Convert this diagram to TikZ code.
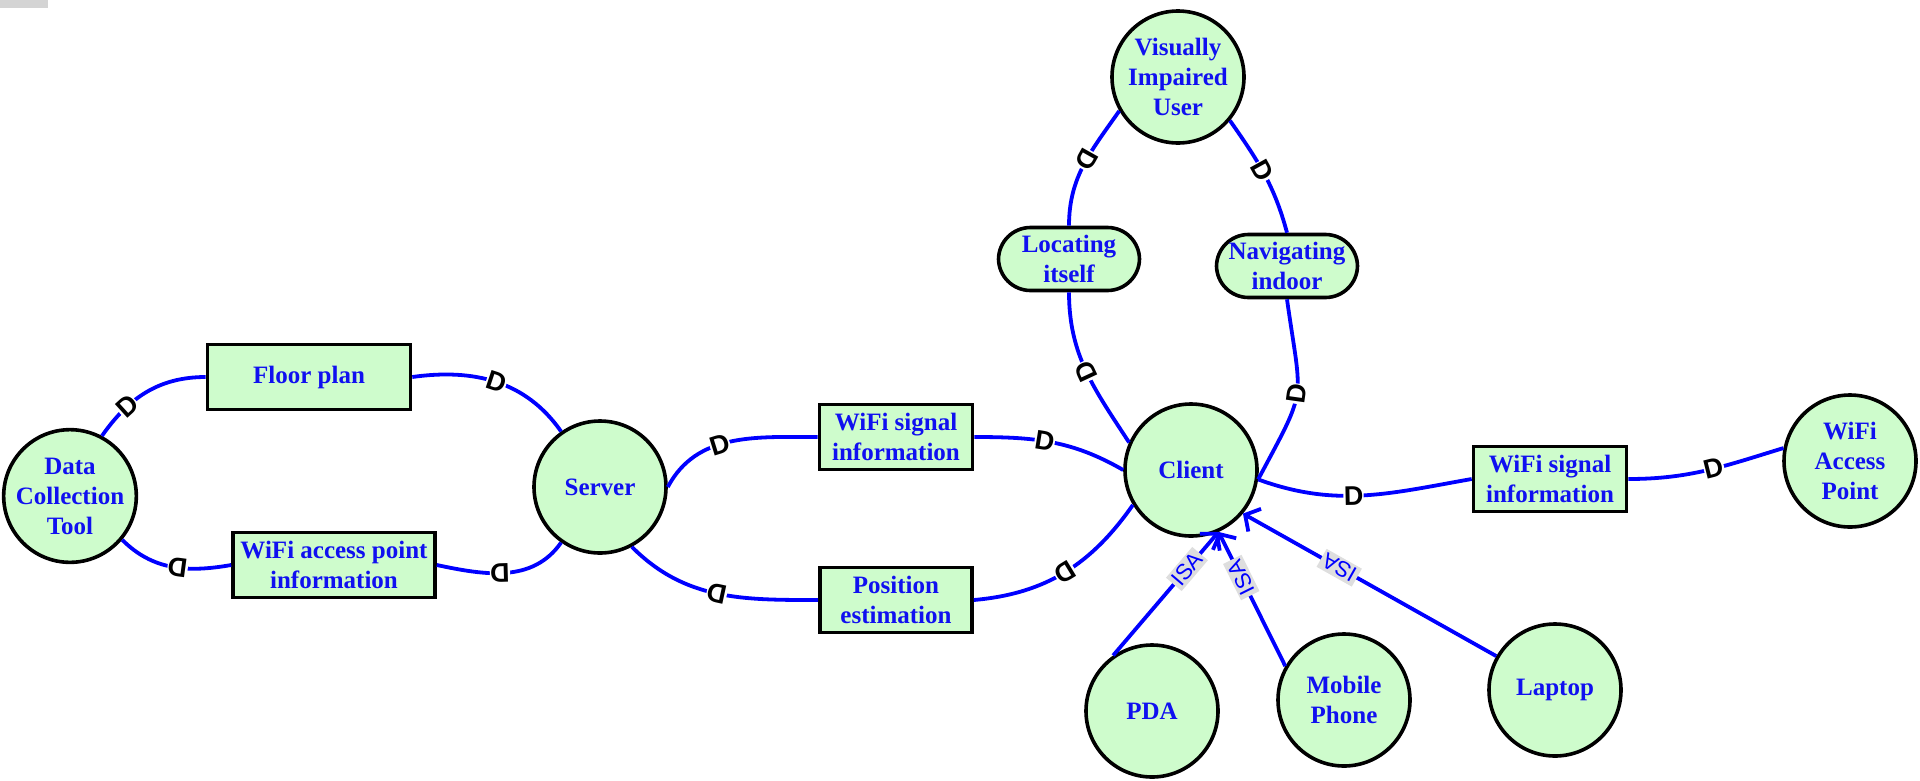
\documentclass[tikz,border=0pt]{standalone}
\usepackage{fontspec}
\setmainfont{Liberation Serif}
\setsansfont{Liberation Sans}
\usetikzlibrary{arrows.meta}
\definecolor{nodefill}{RGB}{206,252,204}
\definecolor{linkblue}{RGB}{0,0,255}
\definecolor{textblue}{RGB}{16,16,240}
\definecolor{isagrey}{RGB}{222,222,222}
\definecolor{cornergrey}{RGB}{212,212,212}

\begin{document}
\begin{tikzpicture}[x=1pt,y=1pt,
  concept/.style={draw=black,line width=3.6pt,fill=nodefill,text=textblue,
    font=\fontsize{25}{30}\selectfont\bfseries,align=center,inner sep=0pt},
  circ/.style={concept,circle,minimum size=132pt},
  box/.style={concept,rectangle,minimum height=65pt},
  pill/.style={concept,rectangle,rounded corners=32pt,minimum width=141pt,minimum height=63pt},
  link/.style={draw=linkblue,line width=3.8pt},
  dmark/.style={sloped,allow upside down,fill=white,text=black,inner sep=0.4pt,
    font=\fontsize{27}{27}\selectfont\sffamily\bfseries},
  isalink/.style={draw=linkblue,line width=3.8pt,-{Straight Barb[length=11pt,width=26pt]}},
  isalabel/.style={sloped,allow upside down,fill=isagrey,text=linkblue,inner sep=2.5pt,
    font=\fontsize{22}{22}\selectfont\sffamily}
]
\useasboundingbox (0,0) rectangle (1920,-780);
\fill[cornergrey] (0,0) rectangle (48,-8);

% concepts
\node[circ] (dct) at (70,-496) {Data\\Collection\\Tool};
\node[box,minimum width=203pt] (floor) at (309,-377) {Floor plan};
\node[box,minimum width=202pt] (wapinfo) at (334,-565) {WiFi access point\\information};
\node[circ] (server) at (600,-487) {Server};
\node[box,minimum width=153pt] (wsig) at (896,-437) {WiFi signal\\information};
\node[box,minimum width=152pt] (pos) at (896,-600) {Position\\estimation};
\node[circ] (client) at (1191,-470) {Client};
\node[circ] (viu) at (1178,-77) {Visually\\Impaired\\User};
\node[pill] (loc) at (1069,-259) {Locating\\itself};
\node[pill] (nav) at (1287,-266) {Navigating\\indoor};
\node[box,minimum width=153pt] (wsigb) at (1550,-479) {WiFi signal\\information};
\node[circ] (wap) at (1850,-461) {WiFi\\Access\\Point};
\node[circ] (pda) at (1152,-711) {PDA};
\node[circ] (mobile) at (1344,-700) {Mobile\\Phone};
\node[circ] (laptop) at (1555,-690) {Laptop};

% links: upper loop runs left to right, lower loop right to left
\draw[link] (dct.62) to[out=55,in=180] node[dmark,pos=.3]{D} (floor.west);
\draw[link] (wapinfo.west) to[out=190,in=-45] node[dmark,pos=.45]{D} (dct.-40);
\draw[link] (floor.east) to[out=8,in=125] node[dmark,pos=.5]{D} (server.125);
\draw[link] (server.-125) to[out=-125,in=-12] node[dmark,pos=.55]{D} (wapinfo.east);
\draw[link] (server.east) to[out=62,in=180] node[dmark,pos=.43]{D} (wsig.west);
\draw[link] (pos.west) to[out=180,in=-45] node[dmark,pos=.5]{D} (server.-62);
\draw[link] (wsig.east) to[out=0,in=150] node[dmark,pos=.45]{D} (client.west);
\draw[link] (client.-149) to[out=-125,in=5] node[dmark,pos=.5]{D} (pos.east);
\draw[link] (viu.210) to[out=235,in=90] node[dmark,pos=.45]{D} (loc.north);
\draw[link] (client.156) to[out=123,in=-90] node[dmark,pos=.5]{D} (loc.south);
\draw[link] (viu.-40) to[out=-55,in=105] node[dmark,pos=.47]{D} (nav.north);
\draw[link] (client.-8) to[out=62,in=-82,looseness=1.5] node[dmark,pos=.5]{D} (nav.south);
\draw[link] (client.-8) to[out=-20,in=190] node[dmark,pos=.45]{D} (wsigb.west);
\draw[link] (wsigb.east) to[out=0,in=197] node[dmark,pos=.55]{D} (wap.169);

% is-a relations
\draw[isalink] (pda.125) -- node[isalabel,pos=.7]{ISA} (client.-66);
\draw[isalink] (mobile.150) -- node[isalabel,pos=.66]{ISA} (client.-66);
\draw[isalink] (laptop.150) -- node[isalabel,pos=.62]{ISA} (client.-40);
\end{tikzpicture}
\end{document}
